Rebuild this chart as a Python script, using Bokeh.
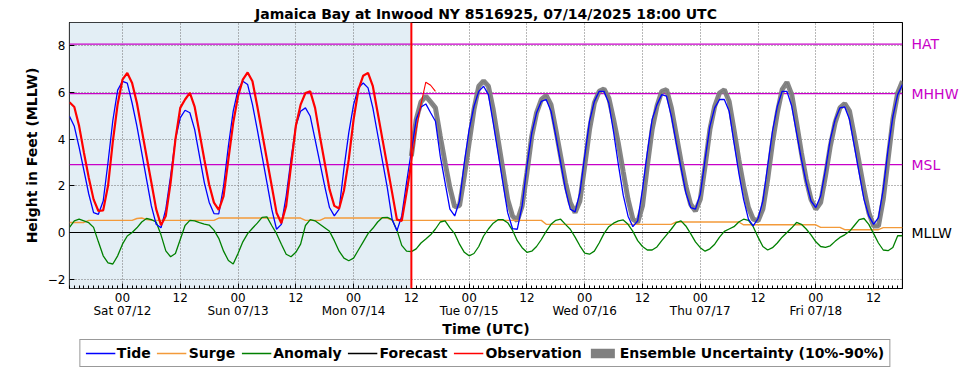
from bokeh.plotting import figure
from bokeh.layouts import column, row
from bokeh.models import Range1d, FixedTicker, Span, BoxAnnotation, Legend, LegendItem
from bokeh.core.properties import value
from bokeh.embed import file_html
from bokeh.resources import INLINE

# time axis: hours since 2025-07-11 13:00 UTC
hours = list(range(0, 174))
now_hour = 71
x_start, x_end = 0, 173

tick_hours = [11, 23, 35, 47, 59, 71, 83, 95, 107, 119, 131, 143, 155, 167]
tick_labels = ["00\nSat 07/12", "12", "00\nSun 07/13", "12", "00\nMon 07/14", "12",
               "00\nTue 07/15", "12", "00\nWed 07/16", "12", "00\nThu 07/17", "12",
               "00\nFri 07/18", "12"]

datum_names = ["HAT", "MHHW", "MSL", "MLLW"]
datum_values = [8.07, 5.95, 2.91, 0.0]

tide = [4.98, 4.55, 3.65, 2.65, 1.65, 0.85, 0.78, 1.35, 3.0, 4.8,
        6.1, 6.48, 6.4, 5.55, 4.56, 3.42, 2.28, 1.14, 0.35, 0.2,
        1.0, 2.42, 3.99, 4.91, 5.24, 5.13, 4.41, 3.27, 2.14, 1.3,
        0.81, 0.8, 1.99, 3.7, 5.2, 6.12, 6.48, 6.34, 5.48, 4.41,
        3.27, 2.14, 1.0, 0.14, 0.35, 1.56, 3.13, 4.56, 5.2, 5.34,
        4.98, 3.99, 2.99, 1.99, 1.07, 0.71, 1.0, 2.75, 4.27, 5.48,
        6.2, 6.41, 6.2, 5.34, 4.2, 3.06, 1.92, 0.57, 0.07, 0.71,
        2.14, 3.49, 4.84, 5.38, 5.51, 5.13, 4.77, 3.27, 2.14, 1.0,
        0.71, 1.35, 2.99, 4.41, 5.41, 6.05, 6.27, 5.91, 4.7, 3.42,
        2.14, 0.85, 0.17, 0.14, 1.14, 2.85, 4.27, 5.13, 5.62, 5.7,
        5.2, 4.13, 2.99, 1.85, 1.0, 0.88, 1.71, 3.27, 4.77, 5.62,
        6.05, 6.05, 5.55, 4.3, 2.9, 1.6, 0.7, 0.25, 0.5, 1.85,
        3.42, 4.84, 5.48, 5.91, 5.84, 4.98, 3.85, 2.78, 1.71, 1.07,
        1.0, 1.64, 3.13, 4.56, 5.34, 5.7, 5.7, 5.2, 3.85, 2.56,
        1.42, 0.57, 0.28, 0.6, 1.35, 2.85, 4.34, 5.41, 6.05, 6.05,
        5.41, 4.27, 3.13, 2.14, 1.35, 1.07, 1.56, 2.7, 3.99, 4.84,
        5.34, 5.38, 4.84, 3.7, 2.56, 1.42, 0.71, 0.35, 0.64, 1.85,
        3.56, 4.98, 5.91, 6.34]

surge = [0.43, 0.43, 0.43, 0.43, 0.52, 0.52, 0.52, 0.52, 0.52, 0.52,
         0.52, 0.52, 0.52, 0.52, 0.6, 0.62, 0.55, 0.52, 0.52, 0.52,
         0.52, 0.52, 0.52, 0.52, 0.52, 0.52, 0.52, 0.52, 0.52, 0.52,
         0.52, 0.62, 0.62, 0.62, 0.62, 0.62, 0.62, 0.62, 0.62, 0.62,
         0.62, 0.62, 0.62, 0.62, 0.62, 0.62, 0.62, 0.62, 0.62, 0.52,
         0.52, 0.52, 0.52, 0.62, 0.62, 0.62, 0.62, 0.62, 0.62, 0.62,
         0.62, 0.62, 0.62, 0.62, 0.62, 0.62, 0.62, 0.52, 0.52, 0.52,
         0.52, 0.52, 0.52, 0.52, 0.52, 0.52, 0.52, 0.52, 0.52, 0.52,
         0.52, 0.52, 0.52, 0.52, 0.52, 0.52, 0.52, 0.52, 0.52, 0.52,
         0.52, 0.52, 0.52, 0.52, 0.52, 0.52, 0.52, 0.52, 0.52, 0.35,
         0.35, 0.35, 0.35, 0.35, 0.35, 0.35, 0.35, 0.35, 0.35, 0.35,
         0.35, 0.35, 0.35, 0.35, 0.35, 0.35, 0.35, 0.35, 0.35, 0.35,
         0.35, 0.35, 0.35, 0.35, 0.35, 0.35, 0.45, 0.45, 0.45, 0.45,
         0.45, 0.45, 0.45, 0.45, 0.45, 0.45, 0.45, 0.45, 0.45, 0.45,
         0.33, 0.33, 0.33, 0.33, 0.33, 0.33, 0.33, 0.33, 0.33, 0.33,
         0.33, 0.33, 0.33, 0.33, 0.33, 0.33, 0.22, 0.22, 0.22, 0.22,
         0.22, 0.12, 0.12, 0.12, 0.12, 0.12, 0.12, 0.12, 0.12, 0.21,
         0.21, 0.21, 0.21, 0.21]

anomaly = [0.22, 0.5, 0.57, 0.5, 0.42, 0.22, -0.4, -1.0, -1.3, -1.35,
           -1.0, -0.5, -0.15, 0.0, 0.2, 0.45, 0.6, 0.55, 0.45, -0.1,
           -0.79, -1.04, -0.9, -0.3, 0.3, 0.52, 0.5, 0.42, 0.36, 0.32,
           0.1, -0.25, -0.8, -1.2, -1.35, -0.9, -0.4, -0.05, 0.18, 0.4,
           0.65, 0.67, 0.3, -0.05, -0.5, -0.93, -1.04, -0.85, -0.5, 0.3,
           0.55, 0.5, 0.35, 0.2, 0.05, -0.35, -0.8, -1.1, -1.21, -1.1,
           -0.75, -0.4, -0.05, 0.18, 0.45, 0.64, 0.65, 0.55, 0.1, -0.55,
           -0.8, -0.82, -0.7, -0.45, -0.28, -0.1, 0.15, 0.45, 0.5, 0.2,
           -0.05, -0.5, -0.85, -1.0, -0.9, -0.6, -0.15, 0.15, 0.4, 0.55,
           0.55, 0.42, 0.1, -0.35, -0.65, -0.85, -0.8, -0.6, -0.3, 0.05,
           0.35, 0.52, 0.57, 0.35, 0.14, -0.2, -0.57, -0.88, -0.93, -0.8,
           -0.45, -0.05, 0.25, 0.4, 0.5, 0.54, 0.35, 0.05, -0.35, -0.6,
           -0.75, -0.75, -0.62, -0.35, -0.1, 0.15, 0.42, 0.5, 0.28, -0.05,
           -0.4, -0.65, -0.8, -0.7, -0.5, -0.2, 0.05, 0.15, 0.25, 0.45,
           0.57, 0.52, 0.25, -0.2, -0.6, -0.75, -0.65, -0.45, -0.2, 0.0,
           0.2, 0.43, 0.35, 0.15, -0.1, -0.4, -0.6, -0.64, -0.57, -0.38,
           -0.21, -0.1, 0.05, 0.3, 0.55, 0.6, 0.35, -0.05, -0.45, -0.75,
           -0.78, -0.64, -0.14, -0.14]

obs_hours = list(range(0, 72))
observation = [5.58, 5.38, 4.56, 3.42, 2.35, 1.42, 0.92, 0.95, 2.0, 3.9,
               5.5, 6.55, 6.84, 6.41, 5.55, 4.41, 3.27, 2.14, 1.0, 0.31,
               0.71, 2.14, 3.99, 5.34, 5.7, 5.98, 5.38, 4.27, 3.13, 2.06,
               1.28, 0.97, 1.56, 3.13, 4.7, 5.84, 6.55, 6.86, 6.48, 5.41,
               4.27, 3.13, 1.99, 0.85, 0.4, 1.14, 2.85, 4.56, 5.48, 5.98,
               6.05, 5.34, 4.13, 2.99, 1.85, 1.14, 1.03, 1.8, 3.13, 4.84,
               6.12, 6.72, 6.84, 6.27, 5.13, 3.99, 2.85, 1.71, 0.55, 0.5,
               1.71, 2.99]
recent_obs_hours = [71, 72, 73, 74, 75, 76]
recent_observation = [2.99, 4.4, 5.5, 6.44, 6.31, 6.05]

fc_hours = list(range(71, 174))
forecast = [3.27, 4.84, 5.6, 5.84, 5.6, 5.34, 4.13, 2.99, 1.92,
            1.1, 1.15, 2.42, 3.85, 5.27, 6.27, 6.5, 6.27, 5.27, 3.99,
            2.7, 1.42, 0.71, 0.5, 1.14, 2.56, 4.13, 5.13, 5.7, 5.87,
            5.48, 4.41, 3.27, 2.14, 1.28, 0.85, 1.35, 2.85, 4.41, 5.55,
            6.05, 6.15, 5.77, 4.84, 3.8, 2.6, 1.42, 0.57, 0.43, 1.14,
            2.85, 4.41, 5.41, 6.05, 6.12, 5.34, 4.2, 3.06, 1.99, 1.21,
            0.92, 1.42, 2.85, 4.41, 5.41, 5.98, 6.12, 5.62, 4.41, 3.13,
            1.99, 1.07, 0.57, 0.5, 1.0, 2.28, 3.85, 5.13, 6.12, 6.44,
            5.91, 4.7, 3.42, 2.28, 1.42, 1.0, 1.28, 2.42, 3.7, 4.7,
            5.34, 5.53, 5.2, 4.13, 2.99, 1.85, 0.85, 0.28, 0.28, 1.42,
            3.13, 4.84, 5.98, 6.48]

MAG = "#c800c8"
FONT = "DejaVu Sans"
C_TIDE, C_SURGE, C_ANOM, C_FC, C_OBS, C_ENS = "#0000ff", "#f39a3a", "#008000", "black", "#ff0000", "#808080"
TOP, BOTTOM, H_MAIN = 22, 50, 339

p = figure(width=903, height=H_MAIN, output_backend="svg", toolbar_location=None,
           x_range=Range1d(x_start, x_end), y_range=Range1d(-2.4, 9.0),
           min_border_left=69, min_border_right=1, min_border_top=TOP, min_border_bottom=BOTTOM)

p.title.text = "Jamaica Bay at Inwood NY 8516925, 07/14/2025 18:00 UTC"
p.title.align = "center"
p.title.text_font = FONT
p.title.text_font_size = "14px"
p.title.text_font_style = "bold"
p.title.text_color = "black"
p.title.standoff = 2
p.title.offset = 0

p.outline_line_color = "black"
p.outline_line_width = 1.2
p.background_fill_color = "white"
p.border_fill_color = "white"

# shaded observed period
p.add_layout(BoxAnnotation(left=x_start, right=now_hour, fill_color="#e3eef5",
                           fill_alpha=1.0, line_alpha=0, level="image"))

# axes
p.xaxis.ticker = FixedTicker(ticks=tick_hours, minor_ticks=hours)
p.xaxis.major_label_overrides = {h: lab for h, lab in zip(tick_hours, tick_labels)}
p.yaxis.ticker = FixedTicker(ticks=[-2, 0, 2, 4, 6, 8], minor_ticks=[])
p.yaxis.major_label_overrides = {-2: "\u22122"}
for ax in (p.xaxis[0], p.yaxis[0]):
    ax.major_tick_in = 5
    ax.major_tick_out = 0
    ax.minor_tick_in = 3
    ax.minor_tick_out = 0
    ax.axis_line_color = None
    ax.major_tick_line_color = "black"
    ax.minor_tick_line_color = "black"
    ax.major_label_text_font = FONT
    ax.major_label_text_font_size = "12px"
    ax.major_label_text_color = "black"
    ax.major_label_text_line_height = 0.95
    ax.axis_label_text_font = FONT
    ax.axis_label_text_font_size = "14px"
    ax.axis_label_text_font_style = "bold"
    ax.axis_label_text_color = "black"
p.xaxis.major_label_standoff = 2
p.xaxis.axis_label = "Time (UTC)"
p.xaxis.axis_label_standoff = 0
p.yaxis.axis_label = "Height in Feet (MLLW)"
p.yaxis.major_label_standoff = 4
p.yaxis.axis_label_standoff = 5

p.xgrid.ticker = FixedTicker(ticks=tick_hours)
p.ygrid.ticker = FixedTicker(ticks=[-2, 0, 2, 4, 6, 8])
for g in (p.xgrid[0], p.ygrid[0]):
    g.grid_line_color = "#707070"
    g.grid_line_dash = "1 2"
    g.grid_line_width = 1

# datum lines
datum_colors = ["black" if n == "MLLW" else MAG for n in datum_names]
for val, col in zip(datum_values, datum_colors):
    p.add_layout(Span(location=val, dimension="width", line_color=col,
                      line_width=1.2, level="underlay"))

# series
p.line(fc_hours, forecast, line_color=C_FC, line_width=1)
p.line(fc_hours, forecast, line_color=C_ENS, line_width=5, line_alpha=0.95)
p.line(hours, surge, line_color=C_SURGE, line_width=1.4)
p.line(hours, anomaly, line_color=C_ANOM, line_width=1.3)
p.line(hours, tide, line_color=C_TIDE, line_width=1.3)
p.line(obs_hours, observation, line_color=C_OBS, line_width=2.2)
p.line(recent_obs_hours, recent_observation, line_color=C_OBS, line_width=1.1)

p.add_layout(Span(location=now_hour, dimension="height", line_color=C_OBS, line_width=2))

# right-hand datum labels (own narrow figure sharing the y range)
lab = figure(width=66, height=H_MAIN, output_backend="svg", toolbar_location=None,
             x_range=Range1d(0, 1), y_range=p.y_range, x_axis_type=None, y_axis_type=None,
             min_border_left=0, min_border_right=0, min_border_top=TOP, min_border_bottom=BOTTOM)
lab.outline_line_color = None
lab.background_fill_color = "white"
lab.border_fill_color = "white"
lab.grid.visible = False
lab.text(x=[0, 0, 0, 0], y=datum_values, text=datum_names, text_color=datum_colors,
         x_offset=8, text_baseline="middle", text_align="left",
         text_font=value(FONT), text_font_size="14px")

# legend strip below
leg = figure(width=969, height=370 - H_MAIN, output_backend="svg", toolbar_location=None,
             x_range=Range1d(-20, -10), y_range=Range1d(-20, -10),
             x_axis_type=None, y_axis_type=None, min_border=0)
leg.outline_line_color = None
leg.background_fill_color = "white"
leg.border_fill_color = "white"
leg.grid.visible = False
l_tide = leg.line(hours, tide, line_color=C_TIDE, line_width=1.5)
l_surge = leg.line(hours, surge, line_color=C_SURGE, line_width=1.5)
l_anom = leg.line(hours, anomaly, line_color=C_ANOM, line_width=1.5)
l_fc = leg.line(fc_hours, forecast, line_color=C_FC, line_width=1.5)
l_obs = leg.line(obs_hours, observation, line_color=C_OBS, line_width=1.5)
l_ens = leg.varea(x=fc_hours, y1=forecast, y2=forecast, fill_color=C_ENS)

legend = Legend(items=[
    LegendItem(label="Tide", renderers=[l_tide]),
    LegendItem(label="Surge", renderers=[l_surge]),
    LegendItem(label="Anomaly", renderers=[l_anom]),
    LegendItem(label="Forecast", renderers=[l_fc]),
    LegendItem(label="Observation", renderers=[l_obs]),
    LegendItem(label="Ensemble Uncertainty (10%-90%)", renderers=[l_ens]),
], orientation="horizontal", location="top_center")
legend.label_text_font = FONT
legend.label_text_font_size = "14px"
legend.label_text_font_style = "bold"
legend.label_text_color = "black"
legend.glyph_width = 30
legend.glyph_height = 12
legend.label_standoff = 2
legend.spacing = 6
legend.padding = 5
legend.margin = 0
legend.border_line_color = "#333333"
legend.border_line_width = 1.2
legend.background_fill_color = "white"
legend.background_fill_alpha = 1
leg.add_layout(legend)

layout = column(row(p, lab, spacing=0), leg, spacing=0)
open("out.html", "w").write(file_html(layout, INLINE))
